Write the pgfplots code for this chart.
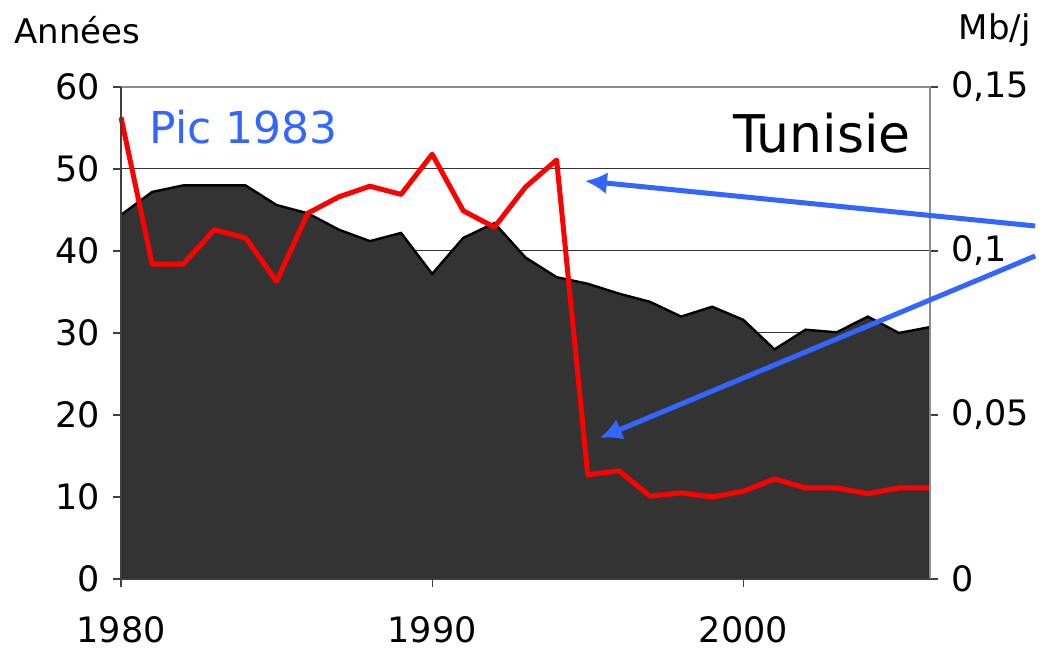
\documentclass[border=0pt]{standalone}
\usepackage{pgfplots}
\pgfplotsset{compat=1.18}
\usepackage{pgfplotstable}
\usetikzlibrary{arrows.meta}
\usepackage{fontspec}
\setmainfont{DejaVu Sans}
\definecolor{picblue}{RGB}{51,102,255}
\definecolor{areagray}{RGB}{51,51,51}

\pgfplotstableread{
year prod
1980 0.111
1981 0.118
1982 0.120
1983 0.120
1984 0.120
1985 0.114
1986 0.1115
1987 0.1065
1988 0.103
1989 0.1055
1990 0.093
1991 0.104
1992 0.1085
1993 0.098
1994 0.092
1995 0.0900
1996 0.0870
1997 0.0845
1998 0.0800
1999 0.0830
2000 0.0790
2001 0.0700
2002 0.0760
2003 0.0752
2004 0.0800
2005 0.0750
2006 0.0768
}\production

\pgfplotstableread{
year ratio
1980 56.3
1981 38.4
1982 38.4
1983 42.6
1984 41.6
1985 36.3
1986 44.6
1987 46.6
1988 47.9
1989 46.9
1990 51.8
1991 44.9
1992 42.9
1993 47.8
1994 51.1
1995 12.7
1996 13.2
1997 10.1
1998 10.5
1999 10.0
2000 10.7
2001 12.2
2002 11.1
2003 11.1
2004 10.4
2005 11.1
2006 11.1
}\ratio

\begin{document}
\begin{tikzpicture}
\pgfplotsset{
  every axis/.append style={
    scale only axis, width=404.5pt, height=246pt,
    xmin=1980, xmax=2006,
    tick align=outside, major tick length=4pt,
    tick style={black!75, line width=0.6pt},
    ticklabel style={font=\fontsize{17.5}{20}\selectfont},
    /pgf/number format/assume math mode=true,
    axis line style={draw=none},
  }
}
% axis 1: left scale, grid
\begin{axis}[
  ymin=0, ymax=60, ytick={0,10,...,60},
  ytick pos=left, xtick pos=bottom,
  xtick={1980,1990,2000}, xticklabels={1980,1990,2000},
  xticklabel style={yshift=-11pt},
  yticklabel style={xshift=-3pt},
  ymajorgrids, grid style={black!80, line width=0.5pt},
]
\addplot[draw=none] coordinates {(1980,0) (2006,60)};
\end{axis}
% axis 2: right scale, production area
\begin{axis}[
  ymin=0, ymax=0.15, ytick={0,0.05,0.1,0.15},
  yticklabels={0,{0,05},{0,1},{0,15}},
  ytick pos=right, xtick=\empty,
  yticklabel style={xshift=3pt},
]
\addplot[fill=areagray, draw=black, line width=1.2pt] table[x=year,y=prod] {\production} \closedcycle;
\end{axis}
% axis 3: left scale, ratio line + annotations
\begin{axis}[
  ymin=0, ymax=60, xtick=\empty, ytick=\empty, clip=false,
]
\addplot[red, line width=2.5pt, line join=round] table[x=year,y=ratio] {\ratio};
\draw[black!45, line width=1.2pt] (rel axis cs:0,1) -- (rel axis cs:1,1) -- (rel axis cs:1,0);
\draw[black!75, line width=1.2pt] (rel axis cs:0,1) -- (rel axis cs:0,0) -- (rel axis cs:1,0);
\node[anchor=west, text=picblue, font=\fontsize{22}{26}\selectfont] at (rel axis cs:0.027,0.919) {Pic 1983};
\node[anchor=east, font=\fontsize{26}{30}\selectfont] at (rel axis cs:0.985,0.906) {Tunisie};
\node[font=\fontsize{17}{20}\selectfont] at (rel axis cs:-0.054,1.116) {Années};
\node[font=\fontsize{17}{20}\selectfont] at (rel axis cs:1.080,1.116) {Mb/j};
\draw[picblue, line width=2.5pt, -{Latex[length=11pt,width=11pt]}] (rel axis cs:1.130,0.7175) -- (rel axis cs:0.5735,0.809);
\draw[picblue, line width=2.5pt, -{Latex[length=11pt,width=11pt]}] (rel axis cs:1.130,0.6565) -- (rel axis cs:0.592,0.2866);
\coordinate (BB1) at (rel axis cs:-0.1496,-0.1545);
\coordinate (BB2) at (rel axis cs:1.1409,1.1768);
\end{axis}
\pgfresetboundingbox
\useasboundingbox (BB1) rectangle (BB2);
\end{tikzpicture}
\end{document}
